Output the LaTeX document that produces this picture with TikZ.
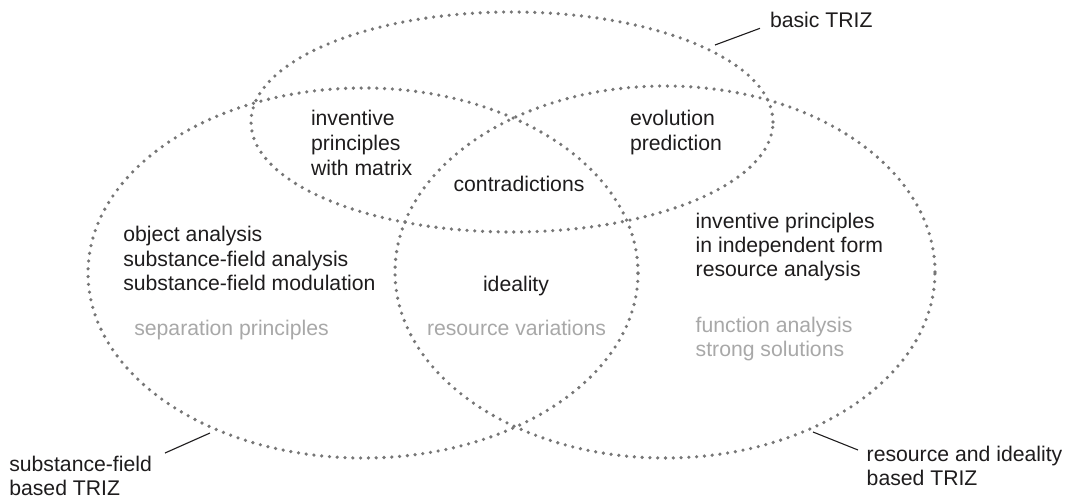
\documentclass[tikz,border=0pt]{standalone}
\usepackage{fontspec}
\setmainfont{Liberation Sans}
\begin{document}
\definecolor{inkdark}{RGB}{30,28,29}
\definecolor{inklight}{RGB}{168,168,168}
\definecolor{dotgray}{RGB}{118,118,118}
\begin{tikzpicture}[x=1pt,y=-1pt,
  set/.style={draw=dotgray, line width=3.6pt, line cap=round, dash pattern=on 0pt off 7.8pt},
  txt/.style={anchor=base west, inner sep=0pt, outer sep=0pt, text=inkdark,
              font=\fontsize{21.2}{25}\selectfont},
  soft/.style={txt, text=inklight},
  leader/.style={draw=inkdark, line width=1.1pt}]
  \fill[white] (0,0) rectangle (1067,501);
  \useasboundingbox (0,0) rectangle (1067,501);

  % the three sets
  \draw[set] (512,122) ellipse [x radius=261pt, y radius=110pt];
  \draw[set] (363,273) ellipse [x radius=275pt, y radius=185pt];
  \draw[set] (665,272) ellipse [x radius=270pt, y radius=186pt];

  % set labels
  \node[txt] (basic) at (770,27.3) {basic TRIZ};
  \node[txt] (sf1) at (9.3,471.7) {substance-field};
  \node[txt] (sf2) at (9.3,495) {based TRIZ};
  \node[txt] (ri1) at (866.7,461.7) {resource and ideality};
  \node[txt] (ri2) at (866.7,485) {based TRIZ};

  % leader lines from labels to the set outlines
  \coordinate (basicA) at (760,28.3);
  \coordinate (basicB) at (715,45);
  \coordinate (sfA) at (165,453);
  \coordinate (sfB) at (210,433);
  \coordinate (riA) at (858,450);
  \coordinate (riB) at (813,432);
  \draw[leader] (basicA) -- (basicB);
  \draw[leader] (sfA) -- (sfB);
  \draw[leader] (riA) -- (riB);

  % basic TRIZ only / overlaps
  \node[txt] (ip1) at (311,125) {inventive};
  \node[txt] (ip2) at (311,150) {principles};
  \node[txt] (ip3) at (311,175) {with matrix};
  \node[txt] (ev1) at (630,125) {evolution};
  \node[txt] (ev2) at (630,150) {prediction};
  \node[txt] (contra) at (453.6,191.7) {contradictions};

  % substance-field based TRIZ
  \node[txt] (oa) at (123.3,241.5) {object analysis};
  \node[txt] (sfa) at (123.3,266) {substance-field analysis};
  \node[txt] (sfm) at (123.3,290.5) {substance-field modulation};
  \node[soft] (sep) at (134.3,335) {separation principles};

  % common to the lower sets
  \node[txt] (ideal) at (483,291.7) {ideality};
  \node[soft] (resvar) at (427,335) {resource variations};

  % resource and ideality based TRIZ
  \node[txt] (ipi1) at (695.7,228.5) {inventive principles};
  \node[txt] (ipi2) at (695.7,252.5) {in independent form};
  \node[txt] (ra) at (695.7,276.5) {resource analysis};
  \node[soft] (fa) at (695.7,332) {function analysis};
  \node[soft] (ss) at (695.7,356.5) {strong solutions};
\end{tikzpicture}
\end{document}
